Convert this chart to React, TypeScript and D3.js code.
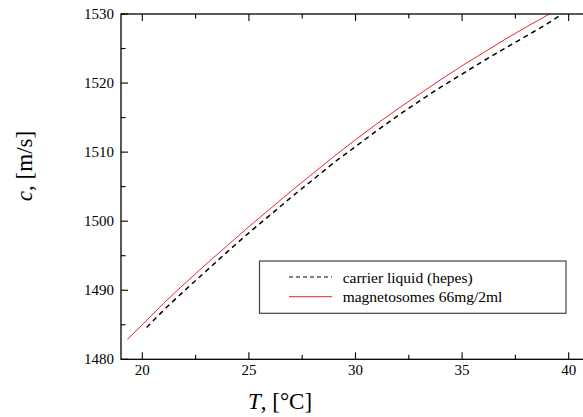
import React from "react";
import * as d3 from "d3";

// carrier liquid (hepes), dashed black
const hepesT = [20.2, 21, 22, 23, 24, 25, 26, 27, 28, 29, 30, 31, 32, 33, 34, 35, 36, 37, 38, 39, 39.7];
const hepesC = [1484.6, 1487.1, 1490.0, 1492.8, 1495.6, 1498.3, 1500.9, 1503.5, 1506.0, 1508.5, 1510.8, 1513.1, 1515.3, 1517.4, 1519.4, 1521.3, 1523.2, 1525.0, 1526.8, 1528.6, 1530.0];

// magnetosomes 66mg/2ml, red
const magT = [19.3, 20, 21, 22, 23, 24, 25, 26, 27, 28, 29, 30, 31, 32, 33, 34, 35, 36, 37, 38, 39.1];
const magC = [1482.9, 1485.0, 1488.1, 1491.0, 1493.8, 1496.5, 1499.2, 1501.8, 1504.4, 1506.9, 1509.4, 1511.8, 1514.1, 1516.3, 1518.4, 1520.5, 1522.5, 1524.4, 1526.3, 1528.1, 1530.0];

const xMajor = [20, 25, 30, 35, 40];
const xMinor = [22.5, 27.5, 32.5, 37.5];
const yMajor = [1480, 1490, 1500, 1510, 1520, 1530];
const yMinor = [1485, 1495, 1505, 1515, 1525];

const legendLabels = ["carrier liquid (hepes)", "magnetosomes 66mg/2ml"];

const W = 583;
const H = 417;
const font = "Liberation Serif, Tinos, DejaVu Serif, serif";

export default function App() {
  // plot box
  const left = 121;
  const right = 590;
  const top = 14;
  const bottom = 359.3;

  const x = d3.scaleLinear().domain([19, 41]).range([left, right]);
  const y = d3.scaleLinear().domain([1480, 1530]).range([bottom, top]);

  const line = d3
    .line<[number, number]>()
    .x((d) => x(d[0]))
    .y((d) => y(d[1]))
    .curve(d3.curveMonotoneX);

  const hepesPts = hepesT.map((t, i) => [t, hepesC[i]] as [number, number]);
  const magPts = magT.map((t, i) => [t, magC[i]] as [number, number]);

  const majorLen = 7;
  const minorLen = 4.5;

  return (
    <svg
      width={W}
      height={H}
      style={{ position: "absolute", left: 0, top: 0, background: "#fff", fontFamily: font }}
    >
      <rect x={0} y={0} width={W} height={H} fill="#fff" />

      {/* curves */}
      <path d={line(hepesPts) || ""} fill="none" stroke="#000" strokeWidth={1.5} strokeDasharray="5,4" />
      <path d={line(magPts) || ""} fill="none" stroke="#e8262b" strokeWidth={1} />

      {/* frame */}
      <rect x={left} y={top} width={right - left} height={bottom - top} fill="none" stroke="#000" strokeWidth={1.3} />

      {/* x ticks */}
      {xMajor.map((t) => (
        <g key={"xm" + t}>
          <line x1={x(t)} x2={x(t)} y1={bottom} y2={bottom - majorLen} stroke="#000" strokeWidth={1.1} />
          <line x1={x(t)} x2={x(t)} y1={top} y2={top + majorLen} stroke="#000" strokeWidth={1.1} />
          <text x={x(t)} y={375} textAnchor="middle" fontSize={15}>
            {t}
          </text>
        </g>
      ))}
      {xMinor.map((t) => (
        <g key={"xn" + t}>
          <line x1={x(t)} x2={x(t)} y1={bottom} y2={bottom - minorLen} stroke="#000" strokeWidth={1.1} />
          <line x1={x(t)} x2={x(t)} y1={top} y2={top + minorLen} stroke="#000" strokeWidth={1.1} />
        </g>
      ))}

      {/* y ticks */}
      {yMajor.map((v) => (
        <g key={"ym" + v}>
          <line x1={left} x2={left + majorLen} y1={y(v)} y2={y(v)} stroke="#000" strokeWidth={1.1} />
          <line x1={right} x2={right - majorLen} y1={y(v)} y2={y(v)} stroke="#000" strokeWidth={1.1} />
          <text x={114} y={y(v) + 5} textAnchor="end" fontSize={15}>
            {v}
          </text>
        </g>
      ))}
      {yMinor.map((v) => (
        <g key={"yn" + v}>
          <line x1={left} x2={left + minorLen} y1={y(v)} y2={y(v)} stroke="#000" strokeWidth={1.1} />
          <line x1={right} x2={right - minorLen} y1={y(v)} y2={y(v)} stroke="#000" strokeWidth={1.1} />
        </g>
      ))}

      {/* axis titles */}
      <text x={280} y={409} textAnchor="middle" fontSize={23}>
        <tspan fontStyle="italic">T</tspan>
        <tspan>, [°C]</tspan>
      </text>
      <text transform="translate(32,166) rotate(-90)" textAnchor="middle" fontSize={23}>
        <tspan fontStyle="italic">c</tspan>
        <tspan>, [m/s]</tspan>
      </text>

      {/* legend */}
      <rect x={259.5} y={261} width={306.5} height={52.3} fill="#fff" stroke="#444" strokeWidth={1.2} />
      <line x1={289} x2={332} y1={277} y2={277} stroke="#000" strokeWidth={1} strokeDasharray="4,3" />
      <line x1={289} x2={332} y1={296.7} y2={296.7} stroke="#e8262b" strokeWidth={1} />
      <text x={342.7} y={282.5} fontSize={15.5}>
        {legendLabels[0]}
      </text>
      <text x={342.7} y={302} fontSize={15.5}>
        {legendLabels[1]}
      </text>
    </svg>
  );
}
